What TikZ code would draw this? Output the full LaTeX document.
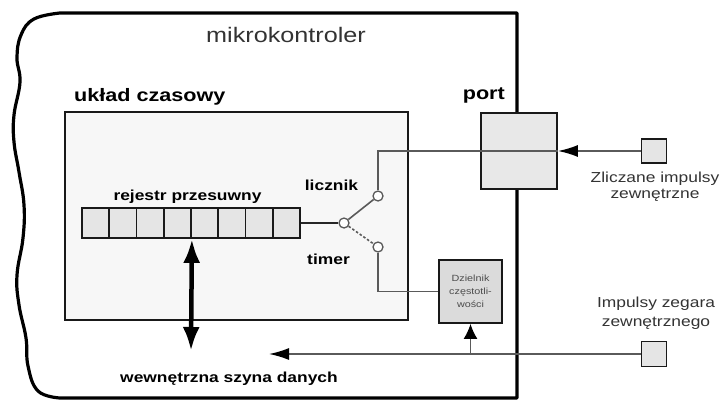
\documentclass[tikz,border=0pt]{standalone}
\usepackage{fontspec}
\setmainfont{Liberation Sans}[FakeStretch=1.2]
\usetikzlibrary{arrows.meta}
\definecolor{wiregray}{HTML}{5A5A5A}
\begin{document}
\begin{tikzpicture}[x=1pt, y=-1pt,
  box/.style={draw=black!90, line width=1.8pt, inner sep=0pt},
  cell/.style={box, fill=black!10, minimum width=27.25pt, minimum height=30pt},
  pin/.style={box, fill=black!10, minimum width=25pt, minimum height=24pt},
  wire/.style={draw=wiregray, line width=1.6pt},
  contact/.style={circle, draw=wiregray, line width=1.3pt, fill=white, minimum size=10pt, inner sep=0pt},
  lbl/.style={font=\fontsize{14.5}{16}\selectfont\bfseries, inner sep=0pt, anchor=base},
  note/.style={font=\fontsize{14.5}{16}\selectfont, text=black!80, align=center, inner sep=0pt},
  tip/.style={-{Latex[length=20pt, width=12pt, color=black]}}]
  \useasboundingbox (0,0) rectangle (722,401);
  \draw[line width=3.2pt, line join=round] (517,398) -- (517,13) -- (60,13)
    -- plot[smooth, tension=0.7] coordinates {(60,13) (34,19) (21,35) (17,58) (20,82) (14,115) (14,142) (19,172) (24,205) (23,238) (17,275) (19,305) (26,338) (28,366) (38,391) (60,398)} -- cycle;
  \node[font=\fontsize{21}{24}\selectfont, text=black!80, anchor=base, inner sep=0pt] (mcu) at (286,43) {mikrokontroler};
  \node[lbl, font=\fontsize{18}{20}\selectfont\bfseries, anchor=base west] (tclbl) at (74,102) {układ czasowy};
  \node[box, fill=black!3, minimum width=343pt, minimum height=208pt] (tc) at (236.5,216) {};
  \foreach \i in {1,...,8}
    \node[cell] (r\i) at ({82+27.25*(\i-0.5)},223) {};
  \node[lbl] (reglbl) at (187.5,200) {rejestr przesuwny};
  \node[contact] (sw) at (344,223) {};
  \node[contact] (swc) at (378,196) {};
  \node[contact] (swt) at (378,247) {};
  \node[lbl] (cntlbl) at (331.5,190) {licznik};
  \node[lbl] (tmrlbl) at (328.5,264) {timer};
  \node[box, fill=black!9, minimum width=76pt, minimum height=76pt] (port) at (519,151) {};
  \node[lbl, font=\fontsize{18}{20}\selectfont\bfseries, anchor=base east] (portlbl) at (505,100) {port};
  \node[box, fill=black!14, minimum width=63pt, minimum height=63pt, font=\fontsize{9}{12.8}\selectfont, text=black!70, align=center] (div) at (470.5,291.5) {Dzielnik\\częstotli-\\wości};
  \node[pin] (pin1) at (654,151) {};
  \node[pin, minimum height=25pt] (pin2) at (654,354) {};
  \node[note] (cntin) at (655,187) {Zliczane impulsy\\zewnętrzne};
  \node[note, font=\fontsize{14.5}{19}\selectfont] (clkin) at (656,313.5) {Impulsy zegara\\zewnętrznego};
  \node[lbl] (buslbl) at (229,382) {wewnętrzna szyna danych};
  \coordinate (busend) at (269,354);
  \coordinate (dbus) at (191,351);
  \draw[wire, draw=black!85] (r8.east) -- (sw);
  \draw[wire] (sw) -- (swc);
  \draw[wire, dash pattern=on 2.5pt off 2pt] (sw) -- (swt);
  \draw[wire] (swc) |- (port.east);
  \draw[wire] (swt) |- (div.west);
  \draw[wire, tip] (pin1) -- (port.east);
  \draw[wire, tip] (pin2) -- (busend);
  \draw[wire, -{Latex[length=15pt, width=14pt, color=black]}] (div.south |- busend) -- (div.south);
  \draw[line width=4.5pt, {Latex[length=24pt, width=17pt]}-{Latex[length=24pt, width=17pt]}] (r4.south east) -- (dbus);
\end{tikzpicture}
\end{document}
